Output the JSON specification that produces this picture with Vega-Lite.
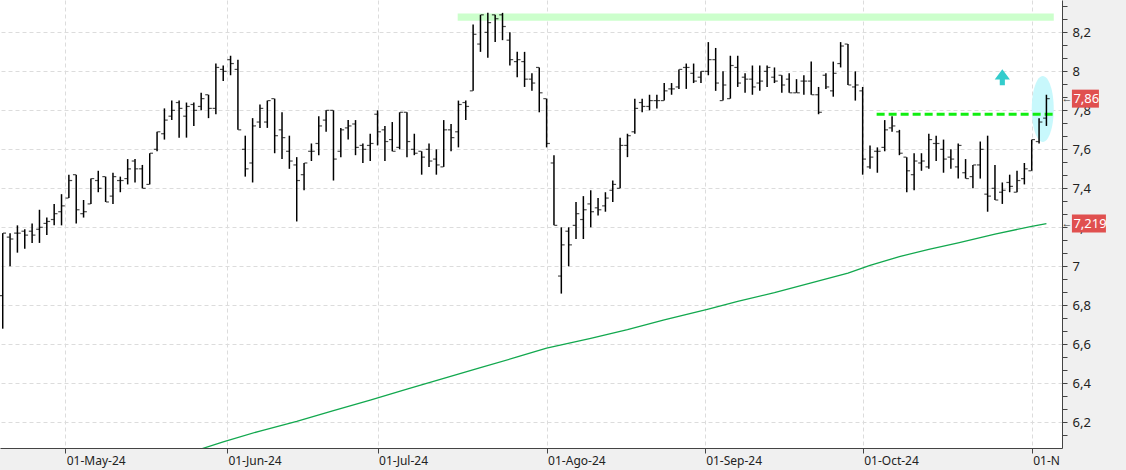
{
"$schema":"https://vega.github.io/schema/vega-lite/v6.json",
"width":1062,"height":448,
"autosize":{"type":"none"},
"padding":{"left":0,"top":0,"right":64,"bottom":22},
"background":"#f0f0f0",
"config":{"view":{"fill":"#ffffff","stroke":null},"axis":{"labelFont":"Noto Sans"},"text":{"font":"Noto Sans"}},
"datasets":{
"ohlc":[
{"date":"2024-04-18","n":0,"open":6.85,"high":7.17,"low":6.68,"close":7.17},
{"date":"2024-04-19","n":1,"open":7.15,"high":7.17,"low":7.0,"close":7.14},
{"date":"2024-04-22","n":2,"open":7.17,"high":7.21,"low":7.07,"close":7.17},
{"date":"2024-04-23","n":3,"open":7.18,"high":7.19,"low":7.09,"close":7.16},
{"date":"2024-04-24","n":4,"open":7.18,"high":7.22,"low":7.12,"close":7.16},
{"date":"2024-04-25","n":5,"open":7.19,"high":7.29,"low":7.12,"close":7.2},
{"date":"2024-04-26","n":6,"open":7.22,"high":7.25,"low":7.16,"close":7.23},
{"date":"2024-04-29","n":7,"open":7.24,"high":7.32,"low":7.21,"close":7.27},
{"date":"2024-04-30","n":8,"open":7.28,"high":7.37,"low":7.21,"close":7.31},
{"date":"2024-05-02","n":9,"open":7.35,"high":7.47,"low":7.35,"close":7.44},
{"date":"2024-05-03","n":10,"open":7.47,"high":7.47,"low":7.22,"close":7.29},
{"date":"2024-05-06","n":11,"open":7.27,"high":7.34,"low":7.25,"close":7.28},
{"date":"2024-05-07","n":12,"open":7.32,"high":7.45,"low":7.32,"close":7.45},
{"date":"2024-05-08","n":13,"open":7.44,"high":7.49,"low":7.38,"close":7.4},
{"date":"2024-05-09","n":14,"open":7.46,"high":7.46,"low":7.33,"close":7.33},
{"date":"2024-05-10","n":15,"open":7.36,"high":7.48,"low":7.32,"close":7.46},
{"date":"2024-05-13","n":16,"open":7.44,"high":7.46,"low":7.38,"close":7.44},
{"date":"2024-05-14","n":17,"open":7.45,"high":7.55,"low":7.42,"close":7.5},
{"date":"2024-05-15","n":18,"open":7.54,"high":7.55,"low":7.43,"close":7.5},
{"date":"2024-05-16","n":19,"open":7.5,"high":7.52,"low":7.4,"close":7.4},
{"date":"2024-05-17","n":20,"open":7.42,"high":7.58,"low":7.42,"close":7.58},
{"date":"2024-05-20","n":21,"open":7.6,"high":7.69,"low":7.59,"close":7.69},
{"date":"2024-05-21","n":22,"open":7.68,"high":7.81,"low":7.65,"close":7.75},
{"date":"2024-05-22","n":23,"open":7.77,"high":7.85,"low":7.75,"close":7.8},
{"date":"2024-05-23","n":24,"open":7.84,"high":7.85,"low":7.66,"close":7.81},
{"date":"2024-05-24","n":25,"open":7.77,"high":7.84,"low":7.66,"close":7.82},
{"date":"2024-05-27","n":26,"open":7.83,"high":7.84,"low":7.72,"close":7.8},
{"date":"2024-05-28","n":27,"open":7.82,"high":7.89,"low":7.8,"close":7.86},
{"date":"2024-05-29","n":28,"open":7.88,"high":7.88,"low":7.76,"close":7.81},
{"date":"2024-05-30","n":29,"open":7.81,"high":8.04,"low":7.78,"close":8.02},
{"date":"2024-05-31","n":30,"open":8.01,"high":8.03,"low":7.95,"close":8.0},
{"date":"2024-06-03","n":31,"open":8.06,"high":8.08,"low":7.98,"close":8.04},
{"date":"2024-06-04","n":32,"open":8.01,"high":8.06,"low":7.7,"close":7.7},
{"date":"2024-06-05","n":33,"open":7.6,"high":7.67,"low":7.46,"close":7.5},
{"date":"2024-06-06","n":34,"open":7.53,"high":7.76,"low":7.43,"close":7.72},
{"date":"2024-06-07","n":35,"open":7.74,"high":7.83,"low":7.71,"close":7.81},
{"date":"2024-06-10","n":36,"open":7.74,"high":7.85,"low":7.71,"close":7.85},
{"date":"2024-06-11","n":37,"open":7.86,"high":7.86,"low":7.58,"close":7.67},
{"date":"2024-06-12","n":38,"open":7.7,"high":7.79,"low":7.55,"close":7.66},
{"date":"2024-06-13","n":39,"open":7.59,"high":7.67,"low":7.5,"close":7.54},
{"date":"2024-06-14","n":40,"open":7.52,"high":7.56,"low":7.23,"close":7.44},
{"date":"2024-06-17","n":41,"open":7.47,"high":7.53,"low":7.39,"close":7.53},
{"date":"2024-06-18","n":42,"open":7.59,"high":7.63,"low":7.54,"close":7.59},
{"date":"2024-06-19","n":43,"open":7.63,"high":7.77,"low":7.57,"close":7.72},
{"date":"2024-06-20","n":44,"open":7.75,"high":7.8,"low":7.69,"close":7.8},
{"date":"2024-06-21","n":45,"open":7.8,"high":7.8,"low":7.44,"close":7.55},
{"date":"2024-06-24","n":46,"open":7.59,"high":7.71,"low":7.56,"close":7.7},
{"date":"2024-06-25","n":47,"open":7.71,"high":7.75,"low":7.65,"close":7.72},
{"date":"2024-06-26","n":48,"open":7.73,"high":7.75,"low":7.57,"close":7.61},
{"date":"2024-06-27","n":49,"open":7.62,"high":7.63,"low":7.53,"close":7.6},
{"date":"2024-06-28","n":50,"open":7.62,"high":7.68,"low":7.54,"close":7.63},
{"date":"2024-07-01","n":51,"open":7.78,"high":7.8,"low":7.62,"close":7.69},
{"date":"2024-07-02","n":52,"open":7.7,"high":7.72,"low":7.54,"close":7.64},
{"date":"2024-07-03","n":53,"open":7.65,"high":7.74,"low":7.59,"close":7.59},
{"date":"2024-07-04","n":54,"open":7.61,"high":7.79,"low":7.6,"close":7.79},
{"date":"2024-07-05","n":55,"open":7.79,"high":7.79,"low":7.56,"close":7.64},
{"date":"2024-07-08","n":56,"open":7.6,"high":7.68,"low":7.57,"close":7.58},
{"date":"2024-07-09","n":57,"open":7.59,"high":7.59,"low":7.47,"close":7.56},
{"date":"2024-07-10","n":58,"open":7.6,"high":7.63,"low":7.51,"close":7.54},
{"date":"2024-07-11","n":59,"open":7.55,"high":7.6,"low":7.47,"close":7.52},
{"date":"2024-07-12","n":60,"open":7.51,"high":7.75,"low":7.51,"close":7.7},
{"date":"2024-07-15","n":61,"open":7.7,"high":7.73,"low":7.59,"close":7.66},
{"date":"2024-07-16","n":62,"open":7.69,"high":7.85,"low":7.61,"close":7.83},
{"date":"2024-07-17","n":63,"open":7.84,"high":7.85,"low":7.75,"close":7.82},
{"date":"2024-07-18","n":64,"open":7.9,"high":8.24,"low":7.9,"close":8.19},
{"date":"2024-07-19","n":65,"open":8.14,"high":8.29,"low":8.1,"close":8.29},
{"date":"2024-07-22","n":66,"open":8.2,"high":8.3,"low":8.07,"close":8.25},
{"date":"2024-07-23","n":67,"open":8.29,"high":8.29,"low":8.15,"close":8.27},
{"date":"2024-07-24","n":68,"open":8.29,"high":8.3,"low":8.16,"close":8.23},
{"date":"2024-07-25","n":69,"open":8.16,"high":8.2,"low":8.03,"close":8.06},
{"date":"2024-07-26","n":70,"open":8.05,"high":8.1,"low":7.97,"close":8.06},
{"date":"2024-07-29","n":71,"open":8.05,"high":8.1,"low":7.92,"close":7.96},
{"date":"2024-07-30","n":72,"open":7.96,"high":7.99,"low":7.9,"close":7.94},
{"date":"2024-07-31","n":73,"open":8.02,"high":8.02,"low":7.79,"close":7.89},
{"date":"2024-08-01","n":74,"open":7.86,"high":7.86,"low":7.61,"close":7.63},
{"date":"2024-08-02","n":75,"open":7.53,"high":7.57,"low":7.21,"close":7.21},
{"date":"2024-08-05","n":76,"open":6.95,"high":7.2,"low":6.86,"close":7.11},
{"date":"2024-08-06","n":77,"open":7.18,"high":7.2,"low":7.0,"close":7.11},
{"date":"2024-08-07","n":78,"open":7.21,"high":7.33,"low":7.14,"close":7.27},
{"date":"2024-08-08","n":79,"open":7.24,"high":7.36,"low":7.14,"close":7.29},
{"date":"2024-08-09","n":80,"open":7.32,"high":7.39,"low":7.2,"close":7.28},
{"date":"2024-08-12","n":81,"open":7.3,"high":7.35,"low":7.26,"close":7.29},
{"date":"2024-08-13","n":82,"open":7.31,"high":7.38,"low":7.28,"close":7.35},
{"date":"2024-08-14","n":83,"open":7.39,"high":7.44,"low":7.33,"close":7.42},
{"date":"2024-08-15","n":84,"open":7.4,"high":7.66,"low":7.4,"close":7.62},
{"date":"2024-08-16","n":85,"open":7.62,"high":7.68,"low":7.56,"close":7.67},
{"date":"2024-08-19","n":86,"open":7.69,"high":7.86,"low":7.68,"close":7.81},
{"date":"2024-08-20","n":87,"open":7.84,"high":7.86,"low":7.79,"close":7.82},
{"date":"2024-08-21","n":88,"open":7.82,"high":7.88,"low":7.8,"close":7.85},
{"date":"2024-08-22","n":89,"open":7.85,"high":7.88,"low":7.81,"close":7.85},
{"date":"2024-08-23","n":90,"open":7.85,"high":7.94,"low":7.85,"close":7.9},
{"date":"2024-08-26","n":91,"open":7.91,"high":7.94,"low":7.88,"close":7.91},
{"date":"2024-08-27","n":92,"open":7.92,"high":8.01,"low":7.91,"close":8.01},
{"date":"2024-08-28","n":93,"open":8.02,"high":8.04,"low":7.91,"close":8.02},
{"date":"2024-08-29","n":94,"open":7.99,"high":8.04,"low":7.94,"close":7.95},
{"date":"2024-08-30","n":95,"open":7.97,"high":8.0,"low":7.94,"close":8.0},
{"date":"2024-09-02","n":96,"open":8.0,"high":8.15,"low":7.98,"close":8.06},
{"date":"2024-09-03","n":97,"open":8.06,"high":8.12,"low":7.9,"close":7.94},
{"date":"2024-09-04","n":98,"open":7.85,"high":8.0,"low":7.85,"close":7.93},
{"date":"2024-09-05","n":99,"open":7.86,"high":8.08,"low":7.86,"close":8.03},
{"date":"2024-09-06","n":100,"open":8.02,"high":8.08,"low":7.92,"close":7.94},
{"date":"2024-09-09","n":101,"open":7.97,"high":7.99,"low":7.89,"close":7.96},
{"date":"2024-09-10","n":102,"open":7.96,"high":8.03,"low":7.88,"close":7.92},
{"date":"2024-09-11","n":103,"open":7.94,"high":8.03,"low":7.9,"close":7.95},
{"date":"2024-09-12","n":104,"open":8.0,"high":8.03,"low":7.92,"close":8.02},
{"date":"2024-09-13","n":105,"open":7.97,"high":8.02,"low":7.94,"close":7.95},
{"date":"2024-09-16","n":106,"open":7.98,"high":7.98,"low":7.89,"close":7.93},
{"date":"2024-09-17","n":107,"open":7.96,"high":7.99,"low":7.89,"close":7.89},
{"date":"2024-09-18","n":108,"open":7.89,"high":7.96,"low":7.89,"close":7.89},
{"date":"2024-09-19","n":109,"open":7.95,"high":7.98,"low":7.88,"close":7.95},
{"date":"2024-09-20","n":110,"open":7.95,"high":8.05,"low":7.88,"close":7.88},
{"date":"2024-09-23","n":111,"open":7.88,"high":7.92,"low":7.78,"close":7.79},
{"date":"2024-09-24","n":112,"open":7.98,"high":7.99,"low":7.91,"close":7.92},
{"date":"2024-09-25","n":113,"open":7.9,"high":8.05,"low":7.87,"close":7.99},
{"date":"2024-09-26","n":114,"open":8.04,"high":8.15,"low":8.02,"close":8.13},
{"date":"2024-09-27","n":115,"open":8.14,"high":8.14,"low":7.93,"close":7.93},
{"date":"2024-09-30","n":116,"open":7.92,"high":8.0,"low":7.85,"close":7.93},
{"date":"2024-10-01","n":117,"open":7.9,"high":7.92,"low":7.47,"close":7.55},
{"date":"2024-10-02","n":118,"open":7.51,"high":7.62,"low":7.5,"close":7.56},
{"date":"2024-10-03","n":119,"open":7.59,"high":7.61,"low":7.48,"close":7.59},
{"date":"2024-10-04","n":120,"open":7.61,"high":7.75,"low":7.59,"close":7.7},
{"date":"2024-10-07","n":121,"open":7.71,"high":7.77,"low":7.69,"close":7.72},
{"date":"2024-10-08","n":122,"open":7.69,"high":7.7,"low":7.57,"close":7.58},
{"date":"2024-10-09","n":123,"open":7.56,"high":7.56,"low":7.38,"close":7.49},
{"date":"2024-10-10","n":124,"open":7.47,"high":7.58,"low":7.39,"close":7.54},
{"date":"2024-10-11","n":125,"open":7.53,"high":7.58,"low":7.49,"close":7.54},
{"date":"2024-10-14","n":126,"open":7.51,"high":7.68,"low":7.5,"close":7.65},
{"date":"2024-10-15","n":127,"open":7.63,"high":7.67,"low":7.54,"close":7.63},
{"date":"2024-10-16","n":128,"open":7.6,"high":7.65,"low":7.48,"close":7.55},
{"date":"2024-10-17","n":129,"open":7.56,"high":7.6,"low":7.5,"close":7.55},
{"date":"2024-10-18","n":130,"open":7.51,"high":7.63,"low":7.45,"close":7.62},
{"date":"2024-10-21","n":131,"open":7.48,"high":7.55,"low":7.45,"close":7.45},
{"date":"2024-10-22","n":132,"open":7.46,"high":7.52,"low":7.4,"close":7.52},
{"date":"2024-10-23","n":133,"open":7.52,"high":7.64,"low":7.45,"close":7.6},
{"date":"2024-10-24","n":134,"open":7.37,"high":7.67,"low":7.28,"close":7.36},
{"date":"2024-10-25","n":135,"open":7.4,"high":7.52,"low":7.34,"close":7.34},
{"date":"2024-10-28","n":136,"open":7.38,"high":7.43,"low":7.32,"close":7.39},
{"date":"2024-10-29","n":137,"open":7.43,"high":7.47,"low":7.38,"close":7.41},
{"date":"2024-10-30","n":138,"open":7.38,"high":7.49,"low":7.38,"close":7.44},
{"date":"2024-10-31","n":139,"open":7.45,"high":7.53,"low":7.42,"close":7.5},
{"date":"2024-11-01","n":140,"open":7.49,"high":7.65,"low":7.49,"close":7.65},
{"date":"2024-11-04","n":141,"open":7.64,"high":7.76,"low":7.63,"close":7.74},
{"date":"2024-11-05","n":142,"open":7.76,"high":7.88,"low":7.72,"close":7.86}
],
"ma":[
{"n":27,"ma":6.063},{"n":30,"ma":6.1},{"n":35,"ma":6.155},{"n":40,"ma":6.205},{"n":45,"ma":6.26},{"n":50,"ma":6.314},
{"n":55,"ma":6.37},{"n":60,"ma":6.425},{"n":65,"ma":6.48},{"n":70,"ma":6.535},{"n":74,"ma":6.58},{"n":80,"ma":6.63},
{"n":85,"ma":6.675},{"n":90,"ma":6.725},{"n":96,"ma":6.78},{"n":100,"ma":6.82},{"n":105,"ma":6.865},{"n":110,"ma":6.915},
{"n":115,"ma":6.965},{"n":118,"ma":7.005},{"n":122,"ma":7.05},{"n":126,"ma":7.087},{"n":130,"ma":7.12},{"n":135,"ma":7.165},
{"n":140,"ma":7.205},{"n":142,"ma":7.219}
]
},
"layer":[
{"data":{"values":[{"n1":61.9,"n2":143.0,"lo":8.259,"hi":8.297}]},
 "mark":{"type":"rect","color":"#ccffcc"},
 "encoding":{
  "x":{"field":"n1","type":"quantitative","scale":{"domain":[-0.37,144.12],"nice":false,"zero":false},"axis":null},
  "x2":{"field":"n2"},
  "y":{"field":"lo","type":"quantitative","scale":{"domain":[6.068,8.366],"nice":false,"zero":false},"axis":null},
  "y2":{"field":"hi"}}},
{"data":{"values":[{"n":141.5,"v":7.807}]},
 "mark":{"type":"point","shape":"M0,-1A0.333,1,0,1,1,0,1A0.333,1,0,1,1,0,-1Z","size":4356,"filled":true,"color":"#c8f8fc","opacity":1,"strokeWidth":0},
 "encoding":{
  "x":{"field":"n","type":"quantitative","scale":{"domain":[-0.37,144.12],"nice":false,"zero":false},"axis":null},
  "y":{"field":"v","type":"quantitative","scale":{"domain":[6.068,8.366],"nice":false,"zero":false},"axis":null}}},
{"data":{"name":"ma"},
 "mark":{"type":"line","color":"#12a84e","strokeWidth":1.3,"clip":true},
 "encoding":{
  "x":{"field":"n","type":"quantitative","scale":{"domain":[-0.37,144.12],"nice":false,"zero":false},"axis":null},
  "y":{"field":"ma","type":"quantitative","scale":{"domain":[6.068,8.366],"nice":false,"zero":false},
   "axis":{"orient":"right","values":[6.1333,6.2667,6.3333,6.4667,6.5333,6.6667,6.7333,6.8667,6.9333,7.0667,7.1333,7.2667,7.3333,7.4667,7.5333,7.6667,7.7333,7.8667,7.9333,8.0667,8.1333,8.2667,8.3333],
    "grid":false,"labels":false,"domain":false,"ticks":true,"tickSize":5,"tickColor":"#444444","title":null}}}},
{"data":{"values":[{"n1":118.9,"n2":142.9,"level":7.78}]},
 "mark":{"type":"rule","color":"#11ee11","strokeWidth":3,"strokeDash":[8,4]},
 "encoding":{
  "x":{"field":"n1","type":"quantitative","scale":{"domain":[-0.37,144.12],"nice":false,"zero":false},"axis":null},
  "x2":{"field":"n2"},
  "y":{"field":"level","type":"quantitative","scale":{"domain":[6.068,8.366],"nice":false,"zero":false},"axis":null}}},
{"data":{"name":"ohlc"},
 "mark":{"type":"rule","color":"#000000","strokeWidth":1.5},
 "encoding":{
  "x":{"field":"n","type":"quantitative","scale":{"domain":[-0.37,144.12],"nice":false,"zero":false},
   "axis":{"values":[8.5,30.5,51,74,95.5,117,140],
    "labelExpr":"datum.value < 20 ? '01-May-24' : datum.value < 40 ? '01-Jun-24' : datum.value < 60 ? '01-Jul-24' : datum.value < 80 ? '01-Ago-24' : datum.value < 100 ? '01-Sep-24' : datum.value < 130 ? '01-Oct-24' : '01-N'",
    "title":null,"grid":true,"gridDash":[4,3],"gridColor":"#dcdcdc","tickSize":5,"tickColor":"#444444","domainColor":"#444444",
    "labelAlign":"left","labelOffset":1,"labelPadding":2,"labelFontSize":12,"labelColor":"#222222","labelBaseline":"top","labelOverlap":false,"labelBound":false,"labelFlush":false}},
  "y":{"field":"low","type":"quantitative","scale":{"domain":[6.068,8.366],"nice":false,"zero":false},
   "axis":{"orient":"right","values":[6.2,6.4,6.6,6.8,7.0,7.2,7.4,7.6,7.8,8.0,8.2],
    "labelExpr":"replace(format(datum.value,'.1~f'),'.',',')",
    "title":null,"grid":true,"gridDash":[4,3],"gridColor":"#dcdcdc","tickSize":5,"tickColor":"#444444","domainColor":"#444444",
    "labelPadding":5,"labelFontSize":13,"labelColor":"#222222","labelOverlap":false,"labelBound":false,"labelFlush":false}},
  "y2":{"field":"high"}}},
{"data":{"name":"ohlc"},
 "mark":{"type":"tick","orient":"horizontal","color":"#000000","size":3,"thickness":1.2,"xOffset":-1.8},
 "encoding":{
  "x":{"field":"n","type":"quantitative","scale":{"domain":[-0.37,144.12],"nice":false,"zero":false},"axis":null},
  "y":{"field":"open","type":"quantitative","scale":{"domain":[6.068,8.366],"nice":false,"zero":false},"axis":null}}},
{"data":{"name":"ohlc"},
 "mark":{"type":"tick","orient":"horizontal","color":"#000000","size":3,"thickness":1.2,"xOffset":1.8},
 "encoding":{
  "x":{"field":"n","type":"quantitative","scale":{"domain":[-0.37,144.12],"nice":false,"zero":false},"axis":null},
  "y":{"field":"close","type":"quantitative","scale":{"domain":[6.068,8.366],"nice":false,"zero":false},"axis":null}}},
{"data":{"values":[{"n":136.0,"v":7.97}]},
 "mark":{"type":"point","shape":"M0,-1L0.95,0.3L0.32,0.3L0.32,1L-0.32,1L-0.32,0.3L-0.95,0.3Z","size":256,"filled":true,"color":"#33cccc","opacity":1,"strokeWidth":0},
 "encoding":{
  "x":{"field":"n","type":"quantitative","scale":{"domain":[-0.37,144.12],"nice":false,"zero":false},"axis":null},
  "y":{"field":"v","type":"quantitative","scale":{"domain":[6.068,8.366],"nice":false,"zero":false},"axis":null}}},
{"data":{"values":[{"n":142,"v":7.86}]},
 "mark":{"type":"rect","width":27,"height":18,"xOffset":39,"color":"#e0504f"},
 "encoding":{
  "x":{"field":"n","type":"quantitative","scale":{"domain":[-0.37,144.12],"nice":false,"zero":false},"axis":null},
  "y":{"field":"v","type":"quantitative","scale":{"domain":[6.068,8.366],"nice":false,"zero":false},"axis":null}}},
{"data":{"values":[{"n":142,"v":7.219}]},
 "mark":{"type":"rect","width":34,"height":18,"xOffset":42.5,"color":"#e0504f"},
 "encoding":{
  "x":{"field":"n","type":"quantitative","scale":{"domain":[-0.37,144.12],"nice":false,"zero":false},"axis":null},
  "y":{"field":"v","type":"quantitative","scale":{"domain":[6.068,8.366],"nice":false,"zero":false},"axis":null}}},
{"data":{"values":[{"n":142,"v":7.86,"label":"7,86"},{"n":142,"v":7.219,"label":"7,219"}]},
 "mark":{"type":"text","align":"left","baseline":"middle","dx":27,"color":"#ffffff","fontSize":13},
 "encoding":{
  "x":{"field":"n","type":"quantitative","scale":{"domain":[-0.37,144.12],"nice":false,"zero":false},"axis":null},
  "y":{"field":"v","type":"quantitative","scale":{"domain":[6.068,8.366],"nice":false,"zero":false},"axis":null},
  "text":{"field":"label"}}},
{"data":{"values":[{"n":142,"v":7.86},{"n":142,"v":7.219}]},
 "mark":{"type":"text","align":"center","baseline":"middle","dx":20.5,"color":"#333333","fontSize":11,"text":"←"},
 "encoding":{
  "x":{"field":"n","type":"quantitative","scale":{"domain":[-0.37,144.12],"nice":false,"zero":false},"axis":null},
  "y":{"field":"v","type":"quantitative","scale":{"domain":[6.068,8.366],"nice":false,"zero":false},"axis":null}}}
],
"resolve":{"axis":{"x":"independent","y":"independent"}}
}
